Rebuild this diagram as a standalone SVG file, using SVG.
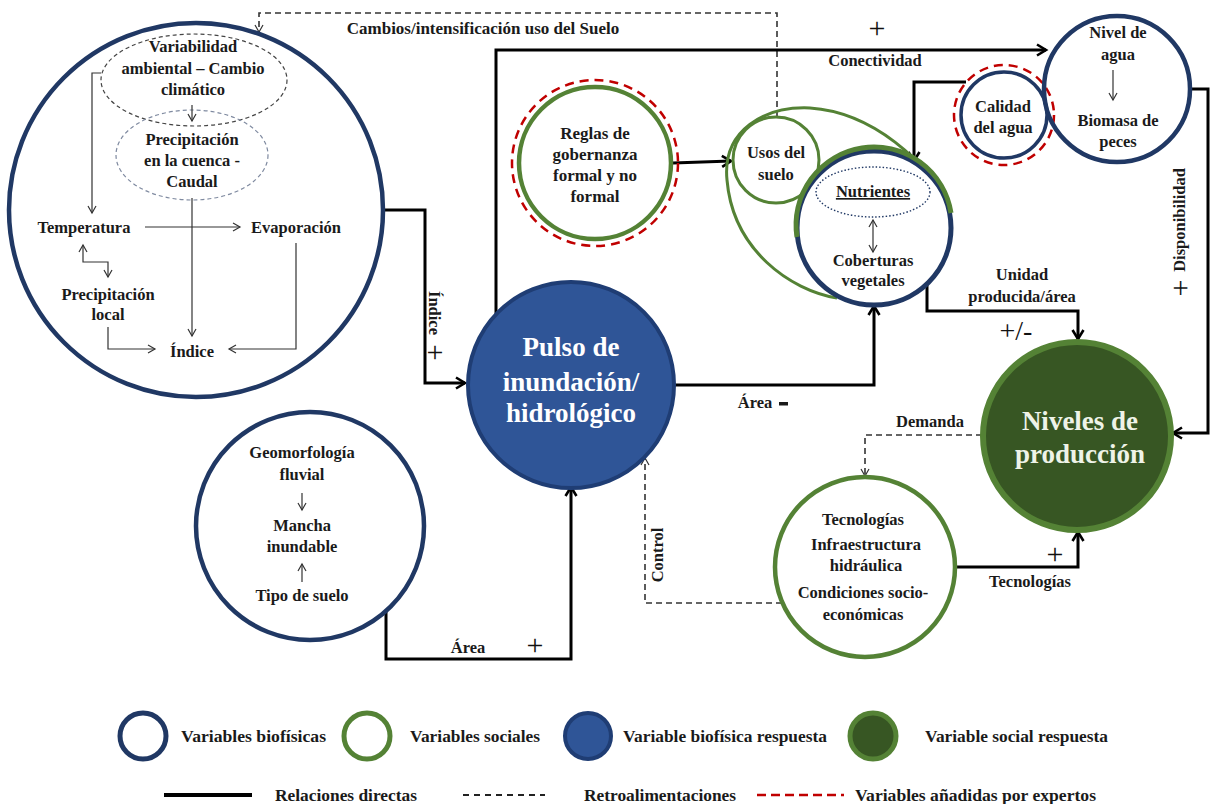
<svg xmlns="http://www.w3.org/2000/svg" width="1211" height="804" viewBox="0 0 1211 804">
<style>
text{font-family:"Liberation Serif","Times New Roman",serif;font-weight:bold;font-size:16.5px;fill:#1a1a1a;text-anchor:middle}
.big{font-size:27px;fill:#ffffff}
.bigg{font-size:27px;fill:#eef3e8}
.pl{font-weight:normal;font-size:30px;fill:#111}
.lg{font-size:16px;text-anchor:start}
.nv{fill:none;stroke:#203864;stroke-width:4.5}
.gr{fill:none;stroke:#548235;stroke-width:4.5}
.rd{fill:none;stroke:#c00000;stroke-width:2.5;stroke-dasharray:9,6}
.thick{fill:none;stroke:#000;stroke-width:3}
.thin{fill:none;stroke:#333;stroke-width:1.2}
.dash{fill:none;stroke:#333;stroke-width:1.6;stroke-dasharray:6,4}
</style>
<defs>
<marker id="ak" markerUnits="userSpaceOnUse" viewBox="0 0 14 14" markerWidth="14" markerHeight="14" refX="11" refY="7" orient="auto-start-reverse">
<path d="M2,1.5 L11,7 L2,12.5" fill="none" stroke="#000" stroke-width="2.6"/>
</marker>
<marker id="at" markerUnits="userSpaceOnUse" viewBox="0 0 10 10" markerWidth="10" markerHeight="10" refX="8" refY="5" orient="auto-start-reverse">
<path d="M1,1 L8,5 L1,9" fill="none" stroke="#333" stroke-width="1.2"/>
</marker>
</defs>

<!-- connectors -->
<g id="connectors">
<path class="dash" d="M777,117 L777,13 L259,13 L259,32" marker-end="url(#at)"/>
<path class="thick" d="M383,210 L425,210 L425,383 L465,383" marker-end="url(#ak)"/>
<path class="thick" d="M496,314 L496,50 L1046,50" marker-end="url(#ak)"/>
<path class="thick" d="M673,163 L731,161" marker-end="url(#ak)"/>
<path class="thick" d="M966,82 L914,82 L914,161" marker-end="url(#ak)"/>
<path class="thick" d="M674,385 L874,385 L874,306" marker-end="url(#ak)"/>
<path class="thick" d="M927,284 L927,311 L1078,311 L1078,339" marker-end="url(#ak)"/>
<path class="thick" d="M1190,89 L1208,89 L1208,433 L1173,433" marker-end="url(#ak)"/>
<path class="thick" d="M955,567 L1078,567 L1078,532" marker-end="url(#ak)"/>
<path class="thick" d="M386,611 L386,659 L571,659 L571,487" marker-end="url(#ak)"/>
<path class="dash" d="M982,435 L865,435 L865,476" marker-end="url(#at)"/>
<path class="dash" d="M782,603 L645,603 L645,458" marker-end="url(#at)"/>
<text x="483" y="34" style="font-size:17px">Cambios/intensificación  uso del Suelo</text>
<text class="pl" x="877" y="38">+</text>
<text x="875" y="66">Conectividad</text>
<text transform="translate(434,313) rotate(90)" dy="5">Índice</text>
<text class="pl" x="435" y="362">+</text>
<text x="755" y="408">Área</text>
<rect x="779" y="402" width="9" height="3.5" fill="#1a1a1a"/>
<text x="1022" y="280">Unidad</text>
<text x="1022" y="302">producida/área</text>
<text class="pl" x="1016" y="340" style="font-size:28px">+/-</text>
<text transform="translate(1180,220) rotate(-90)" dy="5">Disponibilidad</text>
<text class="pl" transform="translate(1180,288) rotate(-90)" dy="10">+</text>
<text x="930" y="427">Demanda</text>
<text class="pl" x="1055" y="564">+</text>
<text x="1030" y="587">Tecnologías</text>
<text transform="translate(658,555) rotate(-90)" dy="5">Control</text>
<text x="468" y="653">Área</text>
<text class="pl" x="535" y="655">+</text>
</g>

<!-- Clima node -->
<g id="clima">
<circle class="nv" cx="196" cy="210" r="187"/>
<ellipse cx="194" cy="80" rx="93" ry="46" fill="none" stroke="#444" stroke-width="1.2" stroke-dasharray="4,3"/>
<ellipse cx="192" cy="155" rx="76" ry="45" fill="none" stroke="#7f8aa0" stroke-width="1.2" stroke-dasharray="4,3"/>
<text x="193" y="52">Variabilidad</text>
<text x="193" y="74">ambiental – Cambio</text>
<text x="193" y="95">climático</text>
<text x="192" y="145">Precipitación</text>
<text x="192" y="166">en la cuenca -</text>
<text x="192" y="187">Caudal</text>
<text x="84" y="233">Temperatura</text>
<text x="296" y="233">Evaporación</text>
<text x="108" y="300">Precipitación</text>
<text x="108" y="320">local</text>
<text x="192" y="357">Índice</text>
<path class="thin" d="M192,105 L192,121" marker-end="url(#at)"/>
<path class="thin" d="M101,73 L92,73 L92,213" marker-end="url(#at)"/>
<path class="thin" d="M145,227 L240,227" marker-end="url(#at)"/>
<path class="thin" d="M192,198 L192,336" marker-end="url(#at)"/>
<path class="thin" d="M296,243 L296,349 L229,349" marker-end="url(#at)"/>
<path class="thin" d="M83,245 L83,262 L108,262 L108,277" marker-start="url(#at)" marker-end="url(#at)"/>
<path class="thin" d="M108,327 L108,349 L155,349" marker-end="url(#at)"/>
</g>

<!-- Pulso node -->
<g id="pulso">
<circle cx="571" cy="385" r="103" fill="#2f5597" stroke="#1f3d74" stroke-width="4"/>
<text class="big" x="571" y="356">Pulso de</text>
<text class="big" x="571" y="391">inundación/</text>
<text class="big" x="571" y="422">hidrológico</text>
</g>

<!-- Reglas node -->
<g id="reglas">
<circle class="rd" cx="595" cy="163" r="83"/>
<circle class="gr" cx="595" cy="163" r="76" stroke-width="6"/>
<text x="595" y="139" style="font-size:17px">Reglas de</text>
<text x="595" y="160" style="font-size:17px">gobernanza</text>
<text x="595" y="181" style="font-size:17px">formal y no</text>
<text x="595" y="202" style="font-size:17px">formal</text>
</g>

<!-- Usos / Coberturas node -->
<g id="usos">
<path d="M837,298 C790,290 733,250 727,180 C722,130 765,106 810,108 C870,112 930,160 950,213" fill="none" stroke="#548235" stroke-width="3"/>
<circle cx="776" cy="160" r="43" fill="#fff" stroke="#548235" stroke-width="3"/>
<text x="776" y="158">Usos del</text>
<text x="776" y="180">suelo</text>
</g>
<g id="coberturas">
<circle cx="874" cy="228" r="77" fill="#fff" stroke="#203864" stroke-width="5"/>
<path d="M797,237 A77,77 0 0 1 951,213" fill="none" stroke="#548235" stroke-width="5"/>
<ellipse cx="873" cy="192" rx="57" ry="25" fill="none" stroke="#203864" stroke-width="1.4" stroke-dasharray="1.5,2"/>
<text x="873" y="197" style="text-decoration:underline">Nutrientes</text>
<path class="thin" d="M873,220 L873,252" marker-start="url(#at)" marker-end="url(#at)"/>
<text x="873" y="266">Coberturas</text>
<text x="873" y="286">vegetales</text>
</g>

<!-- Calidad node -->
<g id="calidad">
<circle class="rd" cx="1004" cy="115" r="50"/>
<circle cx="1004" cy="115" r="43" fill="none" stroke="#203864" stroke-width="3.5"/>
<text x="1003" y="112">Calidad</text>
<text x="1003" y="133">del agua</text>
</g>

<!-- Nivel de agua node -->
<g id="nivel">
<circle class="nv" cx="1117" cy="89" r="73"/>
<text x="1118" y="38">Nivel de</text>
<text x="1118" y="60">agua</text>
<path class="thin" d="M1113,70 L1113,100" marker-end="url(#at)"/>
<text x="1118" y="126">Biomasa de</text>
<text x="1118" y="147">peces</text>
</g>

<!-- Niveles de produccion -->
<g id="niveles">
<circle cx="1077" cy="436" r="94" fill="#375623" stroke="#548235" stroke-width="6"/>
<text class="bigg" x="1080" y="430">Niveles de</text>
<text class="bigg" x="1080" y="463">producción</text>
</g>

<!-- Tecnologias -->
<g id="tecnologias">
<circle class="gr" cx="865" cy="567" r="90"/>
<text x="863" y="525">Tecnologías</text>
<text x="866" y="550">Infraestructura</text>
<text x="866" y="571">hidráulica</text>
<text x="863" y="598">Condiciones socio-</text>
<text x="863" y="620">económicas</text>
</g>

<!-- Geomorfologia -->
<g id="geomorfologia">
<circle class="nv" cx="310" cy="526" r="114"/>
<text x="302" y="458">Geomorfología</text>
<text x="302" y="480">fluvial</text>
<path class="thin" d="M302,493 L302,510" marker-end="url(#at)"/>
<text x="302" y="531">Mancha</text>
<text x="302" y="552">inundable</text>
<path class="thin" d="M302,582 L302,564" marker-end="url(#at)"/>
<text x="302" y="601">Tipo de suelo</text>
</g>

<!-- Legend -->
<g id="legend">
<circle cx="143" cy="736" r="23" fill="#fff" stroke="#203864" stroke-width="5"/>
<text class="lg" x="181" y="742" textLength="145" lengthAdjust="spacingAndGlyphs">Variables biofísicas</text>
<circle cx="367" cy="736" r="23" fill="#fff" stroke="#548235" stroke-width="5"/>
<text class="lg" x="410" y="742" textLength="130" lengthAdjust="spacingAndGlyphs">Variables sociales</text>
<circle cx="588" cy="736" r="23" fill="#2f5597" stroke="#1f3d74" stroke-width="4"/>
<text class="lg" x="623" y="742" textLength="204" lengthAdjust="spacingAndGlyphs">Variable biofísica respuesta</text>
<circle cx="873" cy="736" r="23" fill="#375623" stroke="#548235" stroke-width="5"/>
<text class="lg" x="925" y="742" textLength="183" lengthAdjust="spacingAndGlyphs">Variable social respuesta</text>
<line x1="164" y1="795" x2="252" y2="795" stroke="#000" stroke-width="4"/>
<text class="lg" x="275" y="801" textLength="142" lengthAdjust="spacingAndGlyphs">Relaciones directas</text>
<line x1="463" y1="795" x2="545" y2="795" stroke="#222" stroke-width="1.8" stroke-dasharray="6,5"/>
<text class="lg" x="584" y="801" textLength="152" lengthAdjust="spacingAndGlyphs">Retroalimentaciones</text>
<line x1="757" y1="795" x2="844" y2="795" stroke="#c00000" stroke-width="2.5" stroke-dasharray="9,5"/>
<text class="lg" x="855" y="801" textLength="241" lengthAdjust="spacingAndGlyphs">Variables añadidas por expertos</text>
</g>
</svg>
